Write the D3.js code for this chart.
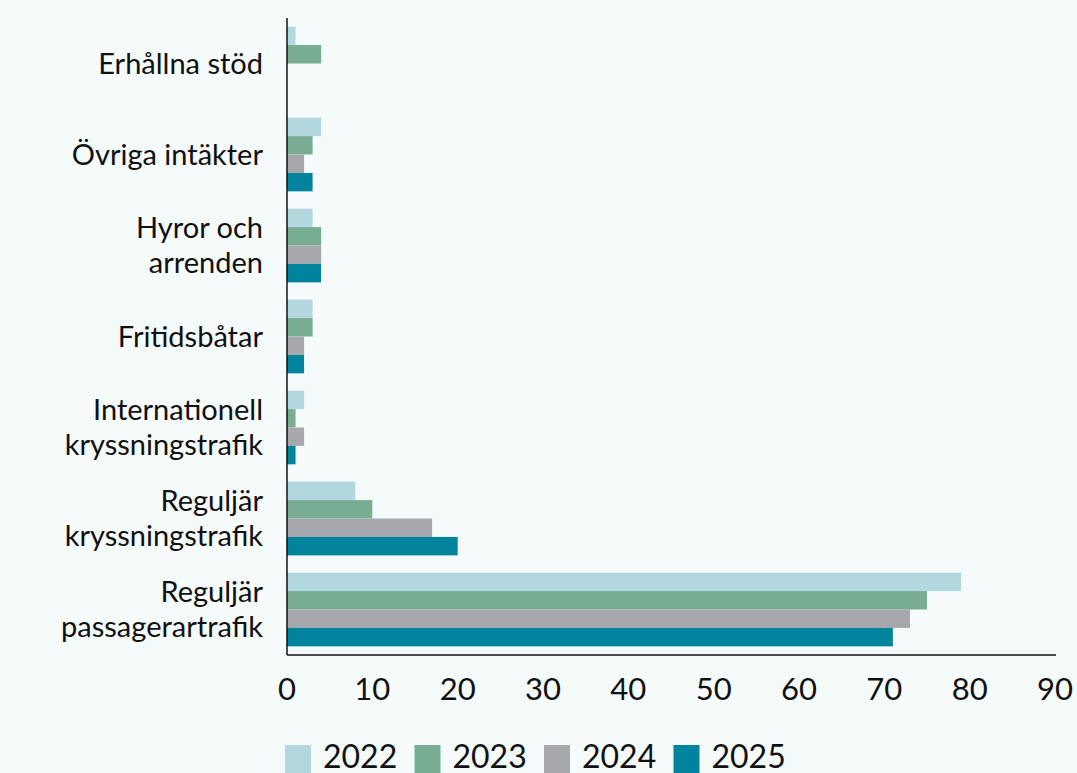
<!DOCTYPE html>
<html lang="sv">
<head>
<meta charset="UTF-8">
<script src="https://d3js.org/d3.v7.min.js"></script>
<style>
  html, body { margin: 0; padding: 0; background: #f5fafa; }
  text { font-family: "Lato", "Noto Sans", sans-serif; fill: #111; }
</style>
</head>
<body>
<script>
// Kategorier (uppifrån och ned)
const categories = [
  ["Erhållna stöd"],
  ["Övriga intäkter"],
  ["Hyror och", "arrenden"],
  ["Fritidsbåtar"],
  ["Internationell", "kryssningstrafik"],
  ["Reguljär", "kryssningstrafik"],
  ["Reguljär", "passagerartrafik"]
];
const years = ["2022", "2023", "2024", "2025"];
const v2022 = [1, 4, 3, 3, 2, 8, 79];
const v2023 = [4, 3, 4, 3, 1, 10, 75];
const v2024 = [0, 2, 4, 2, 2, 17, 73];
const v2025 = [0, 3, 4, 2, 1, 20, 71];
const series = [v2022, v2023, v2024, v2025];
const xTicks = [0, 10, 20, 30, 40, 50, 60, 70, 80, 90];
const colors = ["#b3d7df", "#78ad94", "#a6a8ab", "#00839c"];

const W = 1077, H = 773;
const x0 = 287, x1 = 1055, yTop = 18, yBot = 655;

const svg = d3.select("body").append("svg")
  .attr("width", W).attr("height", H);

const x = d3.scaleLinear().domain([0, 90]).range([x0, x1]);
const y = d3.scaleBand()
  .domain(categories.map((d, i) => i))
  .range([yTop, yBot])
  .paddingInner(0.19)
  .paddingOuter(0.095);
const yInner = d3.scaleBand().domain(years).range([0, y.bandwidth()]);

// Staplar
const groups = svg.selectAll(".grp")
  .data(categories)
  .enter().append("g")
  .attr("transform", (d, i) => `translate(0,${y(i)})`);

groups.each(function(d, i) {
  d3.select(this).selectAll("rect")
    .data(years.map((yr, j) => ({ yr, v: series[j][i], c: colors[j] })))
    .enter().append("rect")
    .attr("x", x(0))
    .attr("y", e => yInner(e.yr))
    .attr("width", e => x(e.v) - x(0))
    .attr("height", yInner.bandwidth())
    .attr("fill", e => e.c);
});

// Kategorietiketter
groups.each(function(d, i) {
  const n = d.length;
  const lh = 35;
  const t = d3.select(this).append("text")
    .attr("text-anchor", "end")
    .attr("font-size", 29);
  d.forEach((line, k) => {
    t.append("tspan")
      .attr("x", 263)
      .attr("y", y.bandwidth() / 2 + (k - (n - 1) / 2) * lh)
      .attr("dy", "0.35em")
      .text(line);
  });
});

// Axlar
svg.append("line")
  .attr("x1", x0).attr("x2", x0).attr("y1", yTop).attr("y2", yBot)
  .attr("stroke", "#111").attr("stroke-width", 1.5);
svg.append("line")
  .attr("x1", x0).attr("x2", x1 + 1).attr("y1", yBot).attr("y2", yBot)
  .attr("stroke", "#111").attr("stroke-width", 1.5);

svg.selectAll(".tick")
  .data(xTicks)
  .enter().append("text")
  .attr("x", d => x(d))
  .attr("y", 700)
  .attr("text-anchor", "middle")
  .attr("font-size", 31)
  .text(d => d);

// Legend
const leg = svg.selectAll(".leg")
  .data(years)
  .enter().append("g")
  .attr("transform", (d, i) => `translate(${285 + i * 129.5},745)`);
leg.append("rect")
  .attr("width", 26).attr("height", 28)
  .attr("fill", (d, i) => colors[i]);
leg.append("text")
  .attr("x", 38).attr("y", 23)
  .attr("font-size", 32)
  .text(d => d);
</script>
</body>
</html>
